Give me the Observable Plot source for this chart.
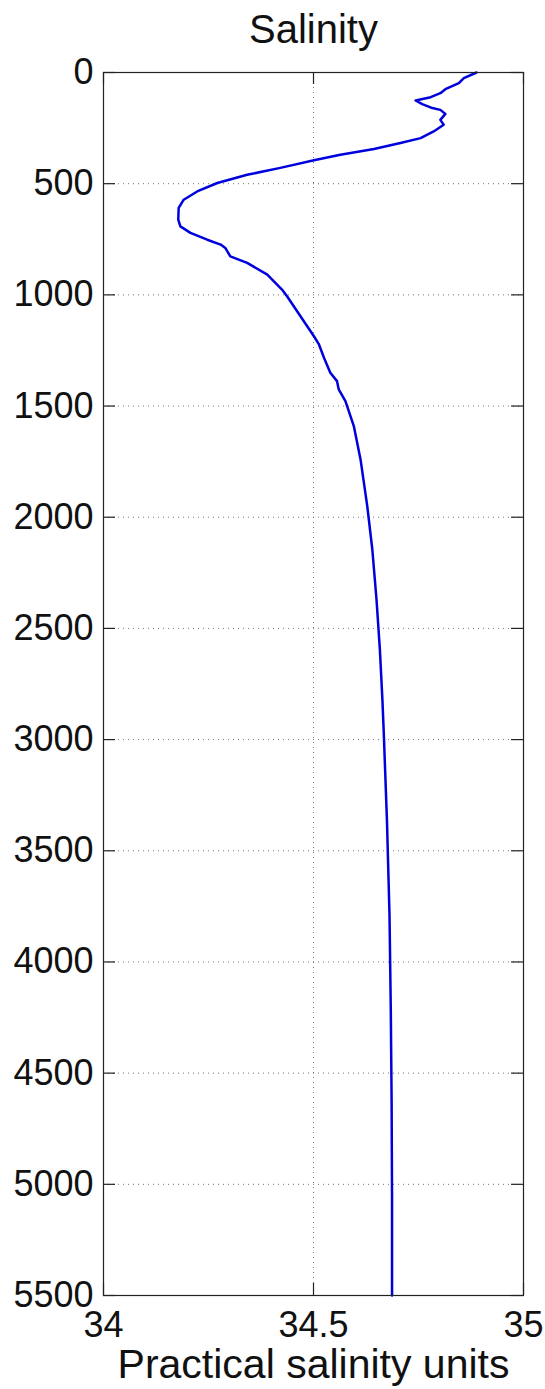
<!DOCTYPE html>
<html>
<head>
<meta charset="utf-8">
<script src="https://cdn.jsdelivr.net/npm/d3@7"></script>
<script src="https://cdn.jsdelivr.net/npm/@observablehq/plot@0.6"></script>
<style>
  html, body { margin: 0; padding: 0; background: #fff; }
</style>
</head>
<body>
<div id="chart"></div>
<script>
// Depth (m) of each sample in the profile
const depth = [
  0, 25, 48, 75, 93, 111, 126, 142, 160, 168, 186, 213, 235, 265, 295, 317,
  344, 370, 395, 429, 460, 497, 535, 572, 609, 662, 692, 721, 752, 774, 789,
  827, 856, 909, 976, 1006, 1096, 1186, 1223, 1283, 1350, 1388, 1425, 1478,
  1590, 1740, 1950, 2144, 2369, 2594, 2818, 2954, 3370, 3792, 4211, 4630, 5064, 5500
];
// Salinity (psu) at each depth
const salinity = [
  34.888, 34.858, 34.846, 34.814, 34.802, 34.779, 34.743, 34.759, 34.783, 34.802,
  34.814, 34.802, 34.810, 34.786, 34.755, 34.707, 34.644, 34.564, 34.501, 34.421,
  34.342, 34.271, 34.223, 34.191, 34.179, 34.178, 34.183, 34.207, 34.247, 34.279,
  34.290, 34.302, 34.342, 34.390, 34.425, 34.437, 34.469, 34.501, 34.513, 34.525,
  34.540, 34.556, 34.560, 34.576, 34.596, 34.612, 34.628, 34.640, 34.650, 34.658,
  34.664, 34.667, 34.675, 34.681, 34.684, 34.686, 34.687, 34.687
];
const xTicks = [34, 34.5, 35];
const yTicks = [0, 500, 1000, 1500, 2000, 2500, 3000, 3500, 4000, 4500, 5000, 5500];
const xGrid = [34.5];
const yGrid = [500, 1000, 1500, 2000, 2500, 3000, 3500, 4000, 4500, 5000];
const titleText = "Salinity";
const xLabelText = "Practical salinity units";

const data = depth.map((d, i) => ({depth: d, salinity: salinity[i]}));

const W = 545, H = 1389;
const mL = 103, mR = 22, mT = 72, mB = 94;
const frameW = W - mL - mR, frameH = H - mT - mB;
const tickLen = 12;

const gridStyle = {stroke: "#666", strokeOpacity: 0.9, strokeWidth: 1, strokeDasharray: "1,4"};
const tickStyle = {stroke: "#222", strokeWidth: 1.2};

const chart = Plot.plot({
  width: W,
  height: H,
  marginLeft: mL,
  marginRight: mR,
  marginTop: mT,
  marginBottom: mB,
  style: {fontFamily: "'Liberation Sans', Arial, Helvetica, sans-serif", fontSize: "36px", color: "#111", background: "#fff", overflow: "visible"},
  x: {domain: [34, 35]},
  y: {domain: [0, 5500], reverse: true},
  marks: [
    Plot.gridX(xGrid, gridStyle),
    Plot.gridY(yGrid, gridStyle),
    // inward ticks (left, right, bottom, top)
    Plot.tickY(yTicks, {y: d => d, insetRight: frameW - tickLen, ...tickStyle}),
    Plot.tickY(yTicks, {y: d => d, insetLeft: frameW - tickLen, ...tickStyle}),
    Plot.tickX(xTicks, {x: d => d, insetTop: frameH - tickLen, ...tickStyle}),
    Plot.tickX(xTicks, {x: d => d, insetBottom: frameH - tickLen, ...tickStyle}),
    Plot.line(data, {x: "salinity", y: "depth", stroke: "#0000dd", strokeWidth: 2.5, strokeLinejoin: "round"}),
    Plot.frame({stroke: "#222", strokeWidth: 1.2}),
    Plot.axisX(xTicks, {anchor: "bottom", tickSize: 0, tickPadding: 16, label: null, fontSize: 36, tickFormat: d => String(d)}),
    Plot.axisY(yTicks, {anchor: "left", tickSize: 0, tickPadding: 10, label: null, fontSize: 36, tickFormat: d => String(d)}),
    Plot.text([xLabelText], {frameAnchor: "bottom", dy: 82, fontSize: 41, fill: "#111"}),
    Plot.text([titleText], {frameAnchor: "top", dy: -58, fontSize: 40, fill: "#111"})
  ]
});
document.getElementById("chart").appendChild(chart);
</script>
</body>
</html>
